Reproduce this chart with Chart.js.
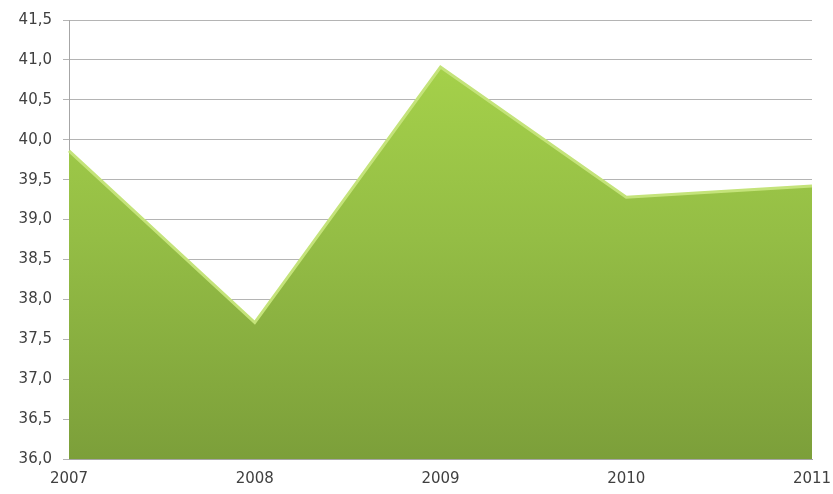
<!DOCTYPE html>
<html>
<head>
<meta charset="utf-8">
<script src="https://cdn.jsdelivr.net/npm/chart.js"></script>
<style>
  html, body { margin: 0; padding: 0; background: #fff; }
  #wrap { width: 833px; height: 494px; }
</style>
</head>
<body>
<div id="wrap"><canvas id="myChart" width="833" height="494"></canvas></div>
<script>
const years = ["2007", "2008", "2009", "2010", "2011"];
const values = [39.86, 37.71, 40.91, 39.28, 39.42];
const yMin = 36.0;
const yMax = 41.5;
const yStep = 0.5;

const ctx = document.getElementById("myChart").getContext('2d');

// vertical green gradient like the office "shiny" area style
function greenFill(context) {
    const chart = context.chart;
    const area = chart.chartArea;
    if (!area) return '#93bd45';
    const g = chart.ctx.createLinearGradient(0, area.top, 0, area.bottom);
    g.addColorStop(0, '#a9d64b');
    g.addColorStop(0.5, '#94bd45');
    g.addColorStop(1, '#7c9f3a');
    return g;
}

const areaChart = new Chart(ctx, {
    type: 'line',
    data: {
        labels: years,
        datasets: [{
            data: values,
            fill: 'start',
            backgroundColor: greenFill,
            borderColor: '#c4e37a',
            borderWidth: 3,
            pointRadius: 0,
            tension: 0
        }]
    },
    options: {
        responsive: false,
        animation: false,
        layout: { padding: { top: 19, right: 0, bottom: 0, left: 0 } },
        plugins: {
            legend: { display: false },
            tooltip: { enabled: false }
        },
        scales: {
            x: {
                offset: false,
                afterFit: axis => { axis.height = 35; axis.paddingRight = 21; },
                grid: { display: false, drawTicks: true, tickLength: 5, color: '#a6a6a6' },
                border: { color: '#a6a6a6', width: 1 },
                ticks: {
                    color: '#404040',
                    font: { family: 'DejaVu Sans', size: 15 },
                    maxRotation: 0,
                    padding: 6
                }
            },
            y: {
                min: yMin,
                max: yMax,
                afterFit: axis => { axis.width = 69; },
                grid: { color: '#b4b4b4', tickLength: 6 },
                border: { color: '#a6a6a6', width: 1 },
                ticks: {
                    stepSize: yStep,
                    color: '#404040',
                    font: { family: 'DejaVu Sans', size: 15 },
                    padding: 11,
                    callback: v => v.toFixed(1).replace('.', ',')
                }
            }
        }
    }
});
</script>
</body>
</html>
